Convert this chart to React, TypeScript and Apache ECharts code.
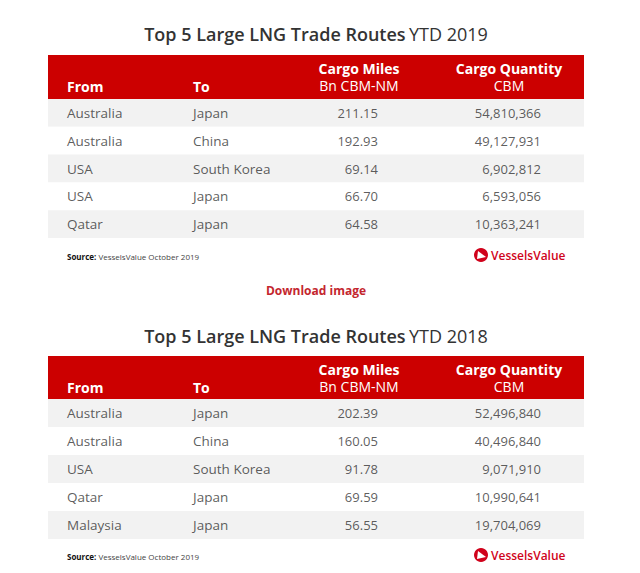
import React, { useEffect, useRef } from "react";
import * as echarts from "echarts";

// ---- Data ----
const from2019 = ["Australia", "Australia", "USA", "USA", "Qatar"];
const to2019 = ["Japan", "China", "South Korea", "Japan", "Japan"];
const miles2019 = [211.15, 192.93, 69.14, 66.7, 64.58];
const qty2019 = [54810366, 49127931, 6902812, 6593056, 10363241];

const from2018 = ["Australia", "Australia", "USA", "Qatar", "Malaysia"];
const to2018 = ["Japan", "China", "South Korea", "Japan", "Japan"];
const miles2018 = [202.39, 160.05, 91.78, 69.59, 56.55];
const qty2018 = [52496840, 40496840, 9071910, 10990641, 19704069];

const headers = ["From", "To", "Cargo Miles", "Bn CBM-NM", "Cargo Quantity", "CBM"];
const titles = ["Top 5 Large LNG Trade Routes", "YTD 2019", "YTD 2018"];
const sourceText = ["Source:", " VesselsValue October 2019"];
const rowIds = ["1", "2", "3", "4", "5"];

const FONT = "'Open Sans', sans-serif";
const RED = "#cc0000";
const TXT = "#333333";

// layout (px)
const TL = 48;
const TR = 584;
const TW = TR - TL;
const colFrom = 67 - TL;
const colTo = 193 - TL;
const colMiles = 378 - TL;
const colQty = 541 - TL;

export default function App() {
  const ref = useRef<HTMLDivElement>(null);
  useEffect(() => {
    if (!ref.current) return;
    const chart = echarts.init(ref.current, null, { renderer: "svg" });

    const tables = [
      { from: from2019, to: to2019, miles: miles2019, qty: qty2019, top: 99, height: 139, head: 55, title: 34, year: titles[1], src: 256 },
      { from: from2018, to: to2018, miles: miles2018, qty: qty2018, top: 399, height: 140, head: 356, title: 336, year: titles[2], src: 556 },
    ];

    const grids: any[] = [];
    const xAxes: any[] = [];
    const yAxes: any[] = [];
    const series: any[] = [];
    const graphic: any[] = [];

    const lbl = (align: string, size: number) => ({
      show: true,
      position: "inside",
      align,
      verticalAlign: "middle",
      color: TXT,
      fontFamily: FONT,
      fontSize: size,
      formatter: (p: any) => p.value[2],
    });

    tables.forEach((t, k) => {
      grids.push({ left: TL, width: TW, top: t.top, height: t.height });
      xAxes.push({ type: "value", gridIndex: k, min: 0, max: TW, show: false });
      yAxes.push({
        type: "category",
        gridIndex: k,
        inverse: true,
        data: rowIds,
        axisLine: { show: false },
        axisTick: { show: false },
        axisLabel: { show: false },
        splitLine: { show: false },
        splitArea: { show: false },
      });
      // row backgrounds
      series.push({
        type: "bar",
        xAxisIndex: k,
        yAxisIndex: k,
        barWidth: "100%",
        silent: true,
        data: rowIds.map((_, i) => ({
          value: TW,
          itemStyle: { color: i % 2 === 0 ? "#f2f2f2" : "#ffffff" },
        })),
      });
      series.push({
        type: "scatter", xAxisIndex: k, yAxisIndex: k, symbolSize: 0, silent: true,
        data: t.from.map((v, i) => [colFrom, i, v]), label: lbl("left", 13.5),
      });
      series.push({
        type: "scatter", xAxisIndex: k, yAxisIndex: k, symbolSize: 0, silent: true,
        data: t.to.map((v, i) => [colTo, i, v]), label: lbl("left", 13.5),
      });
      series.push({
        type: "scatter", xAxisIndex: k, yAxisIndex: k, symbolSize: 0, silent: true,
        data: t.miles.map((v, i) => [colMiles, i, v.toFixed(2)]), label: lbl("right", 13),
      });
      series.push({
        type: "scatter", xAxisIndex: k, yAxisIndex: k, symbolSize: 0, silent: true,
        data: t.qty.map((v, i) => [colQty, i, v.toLocaleString("en-US")]), label: lbl("right", 13),
      });

      // title
      graphic.push({
        type: "text",
        x: 316,
        y: t.title,
        style: {
          text: `{b|${titles[0]}} {r|${t.year}}`,
          align: "center",
          verticalAlign: "middle",
          rich: {
            b: { fontFamily: FONT, fontSize: 18, fontWeight: 600, fill: TXT },
            r: { fontFamily: FONT, fontSize: 18, fontWeight: 400, fill: TXT },
          },
        },
      });
      // header
      graphic.push({ type: "rect", shape: { x: TL, y: t.head, width: TW, height: t.top - t.head }, style: { fill: RED } });
      const hs = (text: string, x: number, y: number, align: string, bold: boolean) => ({
        type: "text",
        x,
        y,
        style: {
          text,
          align,
          verticalAlign: "middle",
          fill: "#ffffff",
          fontFamily: FONT,
          fontSize: 14,
          lineHeight: 14,
          fontWeight: bold ? 700 : 400,
        },
      });
      graphic.push(hs(headers[0], 67, t.head + 31, "left", true));
      graphic.push(hs(headers[1], 193, t.head + 31, "left", true));
      graphic.push(hs(headers[2], 359, t.head + 13, "center", true));
      graphic.push(hs(headers[3], 359, t.head + 30.5, "center", false));
      graphic.push(hs(headers[4], 509, t.head + 13, "center", true));
      graphic.push(hs(headers[5], 509, t.head + 30.5, "center", false));
      // source
      graphic.push({
        type: "text",
        x: 67,
        y: t.src,
        style: {
          text: `{b|${sourceText[0]}}{r|${sourceText[1]}}`,
          verticalAlign: "middle",
          rich: {
            b: { fontFamily: FONT, fontSize: 8, fontWeight: 700, fill: "#111" },
            r: { fontFamily: FONT, fontSize: 8, fontWeight: 400, fill: "#444" },
          },
        },
      });
      // logo
      graphic.push({ type: "circle", shape: { cx: 481, cy: t.src - 1, r: 7 }, style: { fill: "#d0021b" } });
      graphic.push({
        type: "polygon",
        shape: { points: [[478, t.src - 5], [486, t.src + 1], [477, t.src + 3]] },
        style: { fill: "#ffffff" },
      });
      graphic.push({
        type: "text",
        x: 491,
        y: t.src - 1,
        style: {
          text: "VesselsValue",
          verticalAlign: "middle",
          fill: "#d0021b",
          fontFamily: FONT,
          fontSize: 12,
          fontWeight: 600,
        },
      });
    });

    graphic.push({
      type: "text",
      x: 316,
      y: 290,
      style: {
        text: "Download image",
        align: "center",
        verticalAlign: "middle",
        fill: "#c4262e",
        fontFamily: FONT,
        fontSize: 12,
        fontWeight: 700,
      },
    });

    chart.setOption({
      animation: false,
      backgroundColor: "#ffffff",
      grid: grids,
      xAxis: xAxes,
      yAxis: yAxes,
      series,
      graphic,
    });
    return () => chart.dispose();
  }, []);

  return (
    <div
      ref={ref}
      style={{ position: "fixed", left: 0, top: 0, width: 640, height: 573 }}
    />
  );
}
